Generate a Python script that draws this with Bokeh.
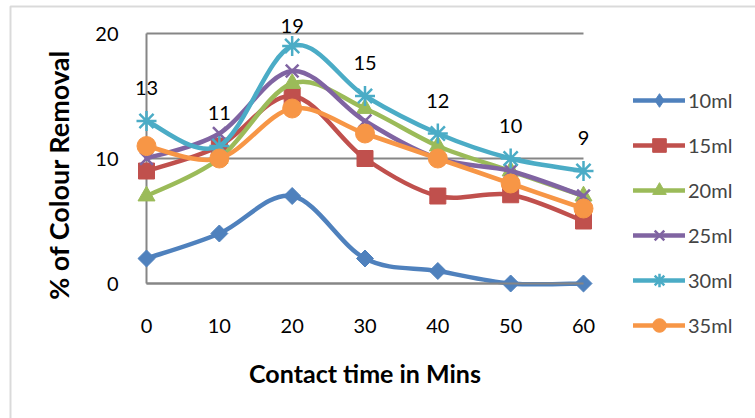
import numpy as np
from bokeh.plotting import figure
from bokeh.models import (ColumnDataSource, Legend, LegendItem, LabelSet,
                          BoxAnnotation, FixedTicker, Range1d)
from bokeh.core.properties import value
from bokeh.embed import file_html
from bokeh.resources import INLINE

# Contact time (minutes) and % colour removal for each dose
time_min = [0, 10, 20, 30, 40, 50, 60]
removal_10ml = [2, 4, 7, 2, 1, 0, 0]
removal_15ml = [9, 11, 15, 10, 7, 7.1, 5]
removal_20ml = [7, 10, 16, 14, 11, 9, 7]
removal_25ml = [10, 12, 17, 13, 10, 9, 7]
removal_30ml = [13, 11, 19, 15, 12, 10, 9]
removal_35ml = [11, 10, 14, 12, 10, 8, 6]
series_names = ["10ml", "15ml", "20ml", "25ml", "30ml", "35ml"]
x_ticks = [0, 10, 20, 30, 40, 50, 60]
y_ticks = [0, 10, 20]

FONT = "Lato"
GREY = "#868686"
W, H = 755, 418

# plot-area placement on the canvas (pixels)
AREA_L, AREA_R, AREA_T, AREA_B = 146, 583, 33, 283
X_MIN, X_MAX, Y_MIN, Y_MAX = 0, 60, 0, 20
sx = (AREA_R - AREA_L) / (X_MAX - X_MIN)
sy = (AREA_B - AREA_T) / (Y_MAX - Y_MIN)
Y_TITLE_CENTER = 171  # vertical centre of the y-axis title, px from top


def px_x(px):
    return X_MIN + (px - AREA_L) / sx


def px_y(py):
    return Y_MIN + (AREA_B - py) / sy


# (name, values, colour, plot marker, legend marker)
series = [
    (series_names[0], removal_10ml, "#4F81BD",
     dict(marker="square", angle=np.pi / 4, size=12), "diamond"),
    (series_names[1], removal_15ml, "#C0504D", dict(marker="square", size=16), None),
    (series_names[2], removal_20ml, "#9BBB59", dict(marker="triangle", size=17), None),
    (series_names[3], removal_25ml, "#8064A2", dict(marker="x", size=18, line_width=2.5), None),
    (series_names[4], removal_30ml, "#4BACC6", dict(marker="asterisk", size=20, line_width=2.5), None),
    (series_names[5], removal_35ml, "#F79646", dict(marker="circle", size=19), None),
]


def smooth_segments(xs, ys):
    """Cubic Bezier pieces (Catmull-Rom style) through every data point."""
    n = len(xs)
    seg = {k: [] for k in ("x0", "y0", "x1", "y1", "cx0", "cy0", "cx1", "cy1")}
    for i in range(n - 1):
        a = max(i - 1, 0)
        d = min(i + 2, n - 1)
        seg["x0"].append(xs[i]); seg["y0"].append(ys[i])
        seg["x1"].append(xs[i + 1]); seg["y1"].append(ys[i + 1])
        seg["cx0"].append(xs[i] + (xs[i + 1] - xs[a]) / 6)
        seg["cy0"].append(ys[i] + (ys[i + 1] - ys[a]) / 6)
        seg["cx1"].append(xs[i + 1] - (xs[d] - xs[i]) / 6)
        seg["cy1"].append(ys[i + 1] - (ys[d] - ys[i]) / 6)
    return seg


# the frame covers the whole canvas; axes sit at fixed data locations
p = figure(width=W, height=H,
           x_range=Range1d(px_x(0), px_x(W)), y_range=Range1d(px_y(H), px_y(0)),
           min_border=0, output_backend="svg", toolbar_location=None, tools="")
p.outline_line_color = None
p.background_fill_color = "white"
p.border_fill_color = "white"

p.xaxis.ticker = FixedTicker(ticks=x_ticks)
p.yaxis.ticker = FixedTicker(ticks=y_ticks)
p.xaxis.fixed_location = Y_MIN
p.yaxis.fixed_location = X_MIN
p.xaxis.bounds = (X_MIN, X_MAX)
p.yaxis.bounds = (px_y(2 * Y_TITLE_CENTER - AREA_T), Y_MAX)
for ax in (p.xaxis[0], p.yaxis[0]):
    ax.axis_line_color = GREY
    ax.axis_line_width = 2
    ax.major_tick_line_color = None
    ax.minor_tick_line_color = None
    ax.major_label_text_font = FONT
    ax.major_label_text_font_size = "20px"
    ax.major_label_text_color = "black"
    ax.axis_label_text_font = FONT
    ax.axis_label_text_font_style = "bold"
    ax.axis_label_text_color = "black"
p.yaxis.axis_line_color = None
p.xaxis.axis_label = "Contact time in Mins"
p.yaxis.axis_label = "%  of Colour Removal"
p.xaxis.axis_label_text_font_size = "25px"
p.yaxis.axis_label_text_font_size = "27px"
p.xaxis.major_label_standoff = 29
p.xaxis.axis_label_standoff = 22
p.yaxis.major_label_standoff = 22
p.yaxis.axis_label_standoff = 17

# horizontal gridlines across the plot area, and the left edge of the plot area
p.ygrid.grid_line_color = GREY
p.ygrid.grid_line_width = 2
p.ygrid.cross_bounds = (X_MIN, X_MAX)
p.xgrid.ticker = FixedTicker(ticks=[X_MIN])
p.xgrid.grid_line_color = GREY
p.xgrid.grid_line_width = 2
p.xgrid.cross_bounds = (Y_MIN, Y_MAX)

items = []
for name, vals, color, mk, legend_marker in series:
    seg = smooth_segments(time_min, vals)
    lr = p.bezier(x0="x0", y0="y0", x1="x1", y1="y1",
                  cx0="cx0", cy0="cy0", cx1="cx1", cy1="cy1",
                  source=ColumnDataSource(seg), line_color=color,
                  line_width=4.5, line_cap="round")
    key = None
    if legend_marker is not None:
        # upright form of the marker, used as the legend key (covered by the
        # marker drawn on top of it in the plot)
        key = p.scatter(time_min, vals, marker=legend_marker, size=13, color=color)
    mk = dict(mk)
    marker = mk.pop("marker")
    mr = p.scatter(time_min, vals, marker=marker, color=color, **mk)
    items.append(LegendItem(label=name, renderers=[lr, key if key is not None else mr]))

# value labels above the 30ml curve, kept inside the chart area
label_src = ColumnDataSource(dict(
    t=time_min, v=removal_30ml,
    lbl=[str(v) for v in removal_30ml],
    off=[min(33, (Y_MAX - v) * sy + 8) for v in removal_30ml],
))
p.add_layout(LabelSet(x="t", y="v", text="lbl", y_offset="off", source=label_src,
                      text_align="center", text_baseline="middle",
                      text_font=value(FONT), text_font_size="20px", text_color="black"))

legend = Legend(items=items, location=(633, 76), orientation="vertical",
                glyph_width=52, glyph_height=34, label_height=34, spacing=11,
                padding=0, margin=0, border_line_color=None,
                background_fill_alpha=0, label_text_font=FONT,
                label_text_font_size="20px", label_standoff=3)
p.add_layout(legend, "center")

# chart-area border
p.add_layout(BoxAnnotation(left=px_x(10), right=px_x(W + 20),
                           top=px_y(6), bottom=px_y(H + 20),
                           fill_alpha=0, line_color=GREY, line_width=2))

open("out.html", "w").write(file_html(p, INLINE))
